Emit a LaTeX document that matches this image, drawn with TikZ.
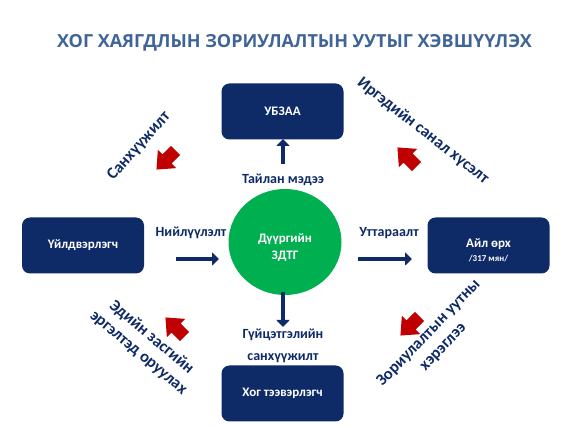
\documentclass[tikz,border=0pt]{standalone}
\usepackage{fontspec}
\setmainfont{Carlito}
\newfontfamily\titlefont{Open Sans}
\usetikzlibrary{arrows.meta,shapes.geometric}
\definecolor{navy}{RGB}{14,42,103}
\definecolor{titleblue}{RGB}{63,100,152}
\definecolor{zgreen}{RGB}{0,176,80}
\definecolor{zred}{RGB}{192,0,0}
\tikzset{
  box/.style={fill=navy, rounded corners=8pt, minimum width=122pt, minimum height=56pt, text=white, font=\fontsize{13}{15}\selectfont\bfseries, align=center, inner sep=0pt},
  lbl/.style={text=navy, font=\fontsize{14}{16}\selectfont\bfseries, align=center, inner sep=0pt},
  rlbl/.style={text=navy, font=\fontsize{16.5}{20}\selectfont\bfseries, align=center, inner sep=0pt},
  flow/.style={draw=navy, line width=4.5pt, -{Triangle[length=7pt,width=13pt]}},
  redfill/.style={fill=zred, draw=none}
}
\newcommand\redblock[3]{%
  \fill[redfill, shift={(#1,#2)}, rotate=#3]
    (13.5,0) -- (-1.5,13) -- (-1.5,6.5) -- (-13.5,6.5) -- (-13.5,-6.5) -- (-1.5,-6.5) -- (-1.5,-13) -- cycle;}
\begin{document}
\begin{tikzpicture}[x=1pt,y=-1pt]
\useasboundingbox (0,0) rectangle (584,427);
\node[text=titleblue, font=\titlefont\fontsize{18}{20}\selectfont\bfseries, inner sep=0pt] (title) at (294.5,43) {ХОГ ХАЯГДЛЫН ЗОРИУЛАЛТЫН УУТЫГ ХЭВШҮҮЛЭХ};

\node[box] (ubzaa) at (282.5,111.5) {УБЗАА};
\node[box] (prod) at (83,245.5) {Үйлдвэрлэгч};
\node[box] (hh) at (488.5,245.5) {};
\node[text=white, font=\fontsize{13}{15}\selectfont\bfseries, inner sep=0pt] (hht) at (488.5,244) {Айл өрх};
\node[text=white, font=\fontsize{9}{10}\selectfont\bfseries, inner sep=0pt] (hhn) at (488.5,259) {/317 мян/};
\node[box] (trans) at (282.5,393.5) {Хог тээвэрлэгч};
\node[ellipse, fill=zgreen, minimum width=113pt, minimum height=106pt, inner sep=0pt] (dzdtg) at (285,242) {};
\node[text=white, font=\fontsize{13}{17}\selectfont\bfseries, align=center, inner sep=0pt] (dzt) at (285,248) {Дүүргийн\\ЗДТГ};

\coordinate (upS) at (283,164);
\coordinate (upE) at (283,139);
\draw[flow] (upS) -- (upE);
\node[lbl] (l1) at (283,180) {Тайлан мэдээ};

\coordinate (dnS) at (283,292);
\coordinate (dnE) at (283,327);
\draw[flow] (dnS) -- (dnE);
\node[lbl, font=\fontsize{14}{22}\selectfont\bfseries] (l2) at (283,346) {Гүйцэтгэлийн\\санхүүжилт};

\coordinate (lS) at (176,259);
\coordinate (lE) at (219,259);
\draw[flow] (lS) -- (lE);
\node[lbl] (l3) at (191,233) {Нийлүүлэлт};

\coordinate (rS) at (358,259);
\coordinate (rE) at (412,259);
\draw[flow] (rS) -- (rE);
\node[lbl] (l4) at (389,233) {Уттараалт};

\redblock{166}{160}{225}
\redblock{407}{157}{135}
\redblock{175}{327}{135}
\redblock{410}{326}{225}

\node[rlbl, rotate=48] (t1) at (139,146) {Санхүүжилт};
\node[rlbl, rotate=-38] (t2) at (423,131) {Иргэдийн санал хүсэлт};
\node[rlbl, rotate=-40] (t3) at (145,345) {Эдийн засгийн\\эргэлтэд оруулах};
\node[rlbl, rotate=46] (t4) at (436,340) {Зориулалтын уутны\\хэрэглээ};
\end{tikzpicture}
\end{document}
